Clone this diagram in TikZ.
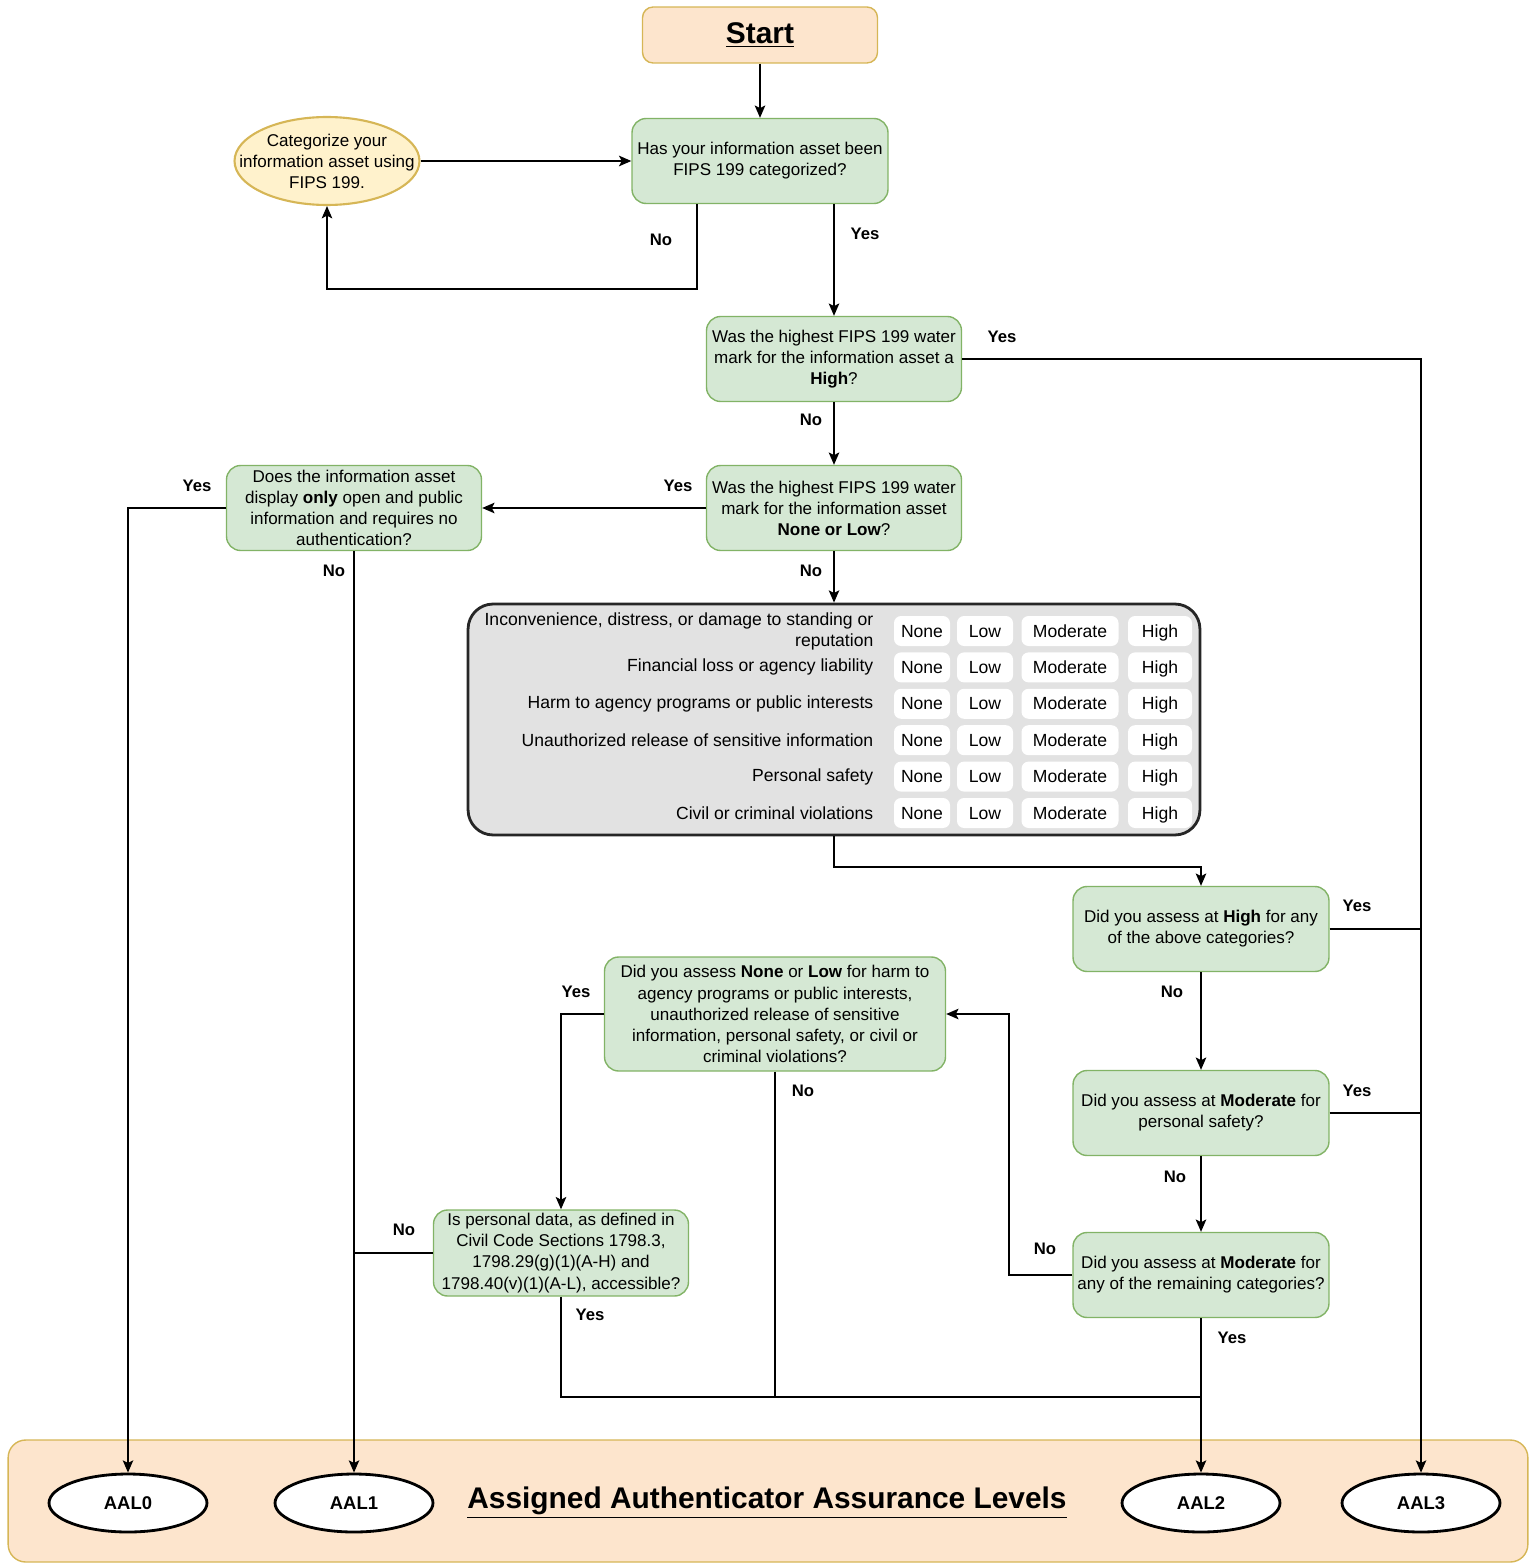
\documentclass[tikz,border=0pt]{standalone}
\usepackage{fontspec}
\setmainfont{Liberation Sans}
\usetikzlibrary{arrows.meta}
\usetikzlibrary{shapes.geometric}
\definecolor{qfill}{HTML}{D5E8D4}
\definecolor{qdraw}{HTML}{82B366}
\definecolor{peach}{HTML}{FDE5CD}
\definecolor{cream}{HTML}{FFF2CC}
\definecolor{gold}{HTML}{D6B656}
\definecolor{tabfill}{HTML}{E2E2E2}

\begin{document}
\begin{tikzpicture}[x=0.02cm,y=-0.02cm,>={Stealth[length=7pt,width=6pt,inset=1.5pt]},line width=0.8pt,
  question/.style={rectangle,rounded corners=8pt,fill=qfill,draw=qdraw,
  align=center,minimum width=5.12cm,minimum height=1.7cm,inner sep=1pt,
  font=\fontsize{9.7}{12}\selectfont},
  aal node/.style={ellipse,fill=white,draw,line width=1.6pt,
  minimum width=3.16cm,minimum height=1.16cm,
  font=\bfseries\fontsize{10.5}{12}\selectfont},
  cell/.style={rectangle,rounded corners=4pt,fill=white,
  minimum height=0.6cm,inner sep=0pt,text height=1.6ex,text depth=0.3ex,
  font=\fontsize{10}{12}\selectfont},
  lbl/.style={font=\bfseries\fontsize{9.5}{11}\selectfont}]
  \useasboundingbox (0,0) rectangle (1536,1564);

  % band of assurance levels
  \node[rectangle,rounded corners=10pt,fill=peach,draw=gold,
  minimum width=30.4cm,minimum height=2.44cm] (band) at (768,1501) {};
  \node[aal node] (aal0) at (128,1503) {AAL0};
  \node[aal node] (aal1) at (354,1503) {AAL1};
  \node[aal node] (aal2) at (1201,1503) {AAL2};
  \node[aal node] (aal3) at (1421,1503) {AAL3};
  \node[font=\bfseries\fontsize{17}{20}\selectfont] (title) at (767,1503)
  {\underline{Assigned Authenticator Assurance Levels}};

  % questions
  \node[rectangle,rounded corners=6pt,fill=peach,draw=gold,
  minimum width=4.7cm,minimum height=1.12cm,
  font=\bfseries\fontsize{17}{20}\selectfont] (start) at (760,35)
  {\underline{Start}};
  \node[ellipse,fill=cream,draw=gold,line width=1.2pt,align=center,
  inner xsep=-0.45cm,inner ysep=0pt,minimum width=3.7cm,minimum height=1.76cm,
  font=\fontsize{9.7}{12}\selectfont] (cat) at (327,161)
  {Categorize your\\information asset using\\FIPS 199.};
  \node[question] (q1) at (760,161)
  {Has your information asset been\\FIPS 199 categorized?};
  \node[question,minimum width=5.1cm] (q2) at (834,359)
  {Was the highest FIPS 199 water\\mark for the information asset a\\\textbf{High}?};
  \node[question,minimum width=5.1cm] (q3) at (834,508)
  {Was the highest FIPS 199 water\\mark for the information asset\\\textbf{None or Low}?};
  \node[question,minimum width=5.1cm] (q4) at (354,508)
  {Does the information asset\\display \textbf{only} open and public\\information and requires no\\authentication?};
  \node[question] (q5) at (1201,929)
  {Did you assess at \textbf{High} for any\\of the above categories?};
  \node[question] (q6) at (1201,1113)
  {Did you assess at \textbf{Moderate} for\\personal safety?};
  \node[question] (q7) at (1201,1275)
  {Did you assess at \textbf{Moderate} for\\any of the remaining categories?};
  \node[question,minimum width=6.82cm,minimum height=2.28cm] (q8) at (775,1014)
  {Did you assess \textbf{None} or \textbf{Low} for harm to\\agency programs or public interests,\\unauthorized release of sensitive\\information, personal safety, or civil or\\criminal violations?};
  \node[question,minimum width=5.1cm,minimum height=1.72cm] (q9) at (561,1253)
  {Is personal data, as defined in\\Civil Code Sections 1798.3,\\1798.29(g)(1)(A-H) and\\1798.40(v)(1)(A-L), accessible?};

  % impact table
  \node[rectangle,rounded corners=0.5cm,fill=tabfill,draw=black!85,line width=1.6pt,
  minimum width=14.64cm,minimum height=4.62cm] (tab) at (834,719.5) {};
  \foreach \txt [count=\i] in {{Inconvenience, distress, or damage to standing or\\reputation},
    Financial loss or agency liability,
    Harm to agency programs or public interests,
    Unauthorized release of sensitive information,
    Personal safety,
    Civil or criminal violations}{
    \pgfmathsetmacro\ry{631+36.4*(\i-1)}
    \node[anchor=east,align=right,inner sep=0pt,
    font=\fontsize{10}{12}\selectfont] (row\i) at (874,\ry) {\txt};
    \foreach \lv/\cx/\cw in {None/922/1.12,Low/985/1.12,Moderate/1070/1.94,High/1160/1.28}
      \node[cell,minimum width=\cw cm] (c\i\lv) at (\cx,\ry) {\lv};
  }

  % bend points
  \coordinate (b1) at (697,289);
  \coordinate (b2) at (1201,867);
  \coordinate (b3) at (1009,1014);
  \coordinate (b4) at (1201,1397);

  % connectors
  \path[->] (start) edge (q1)
    (cat) edge (q1)
    (q2) edge (q3)
    (q3) edge (q4)
    (q3) edge (tab)
    (q5) edge (q6)
    (q6) edge (q7)
    (q4.south) edge (aal1.north)
    (q7.south) edge (aal2.north);
  \draw[->] (q1.south -| b1) -- (b1) -| (cat.south);
  \draw[->] (q1.south -| q2.north) -- (q2.north);
  \draw[->] (q2.east) -| (aal3.north);
  \draw[->] (q4.west) -| (aal0.north);
  \draw[->] (tab.south) |- (b2) -- (q5.north);
  \draw (q5.east) -- (q5.east -| aal3);
  \draw (q6.east) -- (q6.east -| aal3);
  \draw[->] (q7.west) -| (b3) -- (q8.east);
  \draw[->] (q8.west) -| (q9.north);
  \draw (q8.south) -- (q8.south |- b4);
  \draw (q9.west) -- (q9.west -| aal1);
  \draw (q9.south) |- (b4);

  % yes / no labels
  \node[lbl] (n1) at (661,240) {No};
  \node[lbl] (y1) at (865,234) {Yes};
  \node[lbl] (y2) at (1002,337) {Yes};
  \node[lbl] (n2) at (811,420) {No};
  \node[lbl] (y3) at (678,486) {Yes};
  \node[lbl] (n3) at (811,571) {No};
  \node[lbl] (y4) at (197,486) {Yes};
  \node[lbl] (n4) at (334,571) {No};
  \node[lbl] (y5) at (1357,906) {Yes};
  \node[lbl] (n5) at (1172,992) {No};
  \node[lbl] (y6) at (1357,1091) {Yes};
  \node[lbl] (n6) at (1175,1177) {No};
  \node[lbl] (n7) at (1045,1249) {No};
  \node[lbl] (y7) at (1232,1338) {Yes};
  \node[lbl] (y8) at (576,992) {Yes};
  \node[lbl] (n8) at (803,1091) {No};
  \node[lbl] (n9) at (404,1230) {No};
  \node[lbl] (y9) at (590,1315) {Yes};
\end{tikzpicture}
\end{document}
